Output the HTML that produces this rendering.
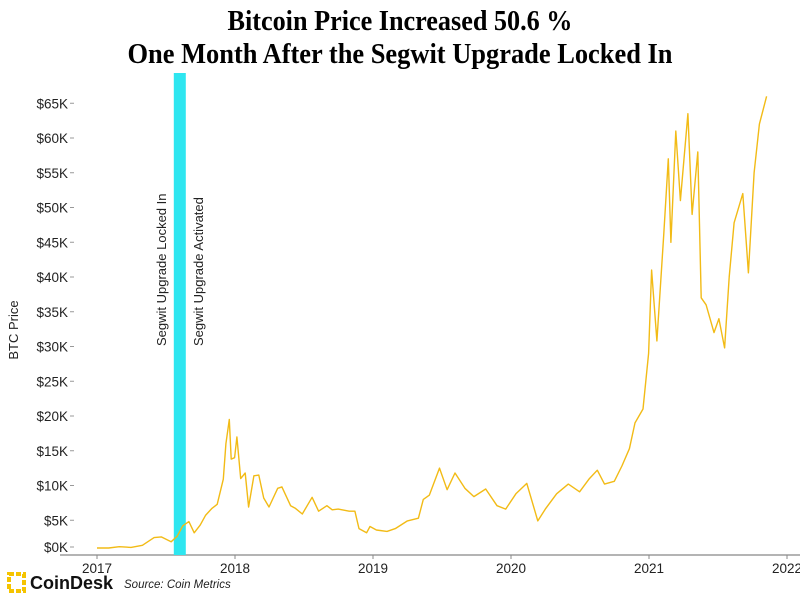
<!DOCTYPE html>
<html><head><meta charset="utf-8"><style>
html,body{margin:0;padding:0;background:#fff;}
svg{display:block;font-family:"Liberation Sans",sans-serif;}
</style></head><body>
<svg id="chart" width="800" height="600" viewBox="0 0 800 600">
<text x="400" y="30" text-anchor="middle" font-family="Liberation Serif" font-weight="bold" font-size="28" textLength="345" lengthAdjust="spacingAndGlyphs">Bitcoin Price Increased 50.6 %</text>
<text x="400" y="63" text-anchor="middle" font-family="Liberation Serif" font-weight="bold" font-size="28" textLength="545" lengthAdjust="spacingAndGlyphs">One Month After the Segwit Upgrade Locked In</text>
<text transform="translate(18,330) rotate(-90)" text-anchor="middle" font-size="13" fill="#222">BTC Price</text>
<g id="yticks"></g>
<g id="xticks"></g>
<rect id="band" y="73" height="482" fill="#2ee6f0"></rect>
<text transform="translate(166,346) rotate(-90)" font-size="13" fill="#222">Segwit Upgrade Locked In</text>
<text transform="translate(203,346) rotate(-90)" font-size="13" fill="#222">Segwit Upgrade Activated</text>
<path id="line" fill="none" stroke="#f2bb16" stroke-width="1.4" stroke-linejoin="round"></path>
<g>
<rect x="9" y="574" width="15" height="17" fill="none" stroke="#f5c400" stroke-width="4" stroke-dasharray="5 2"></rect>
<text x="30" y="589" font-size="18" font-weight="bold" fill="#111">CoinDesk</text>
</g>
<text x="124" y="588" font-size="11.5" font-style="italic" fill="#222">Source: Coin Metrics</text>
</svg>
<script>
const dates = ["2017-01-01","2017-02-01","2017-03-01","2017-04-01","2017-05-01","2017-06-01","2017-06-20","2017-07-16","2017-08-01","2017-08-16","2017-09-01","2017-09-15","2017-10-01","2017-10-15","2017-11-01","2017-11-15","2017-12-01","2017-12-08","2017-12-17","2017-12-22","2017-12-31",
"2018-01-06","2018-01-16","2018-01-28","2018-02-06","2018-02-20","2018-03-05","2018-03-18","2018-04-01","2018-04-24","2018-05-05","2018-05-28","2018-06-10","2018-06-28","2018-07-24","2018-08-10","2018-09-01","2018-09-15","2018-10-01","2018-10-30","2018-11-14","2018-11-25","2018-12-15","2018-12-24",
"2019-01-10","2019-02-07","2019-03-01","2019-04-02","2019-05-01","2019-05-14","2019-05-30","2019-06-26","2019-07-16","2019-08-06","2019-09-01","2019-09-25","2019-10-26","2019-11-25","2019-12-18",
"2020-01-14","2020-02-12","2020-03-12","2020-04-01","2020-05-01","2020-06-01","2020-07-01","2020-07-27","2020-08-17","2020-09-05","2020-10-01","2020-10-21","2020-11-10","2020-11-25","2020-12-16","2020-12-31",
"2021-01-08","2021-01-22","2021-02-09","2021-02-21","2021-02-28","2021-03-13","2021-03-25","2021-04-14","2021-04-25","2021-05-10","2021-05-19","2021-06-01","2021-06-22","2021-07-05","2021-07-20","2021-08-01","2021-08-14","2021-09-06","2021-09-21","2021-10-06","2021-10-20","2021-11-08"];
const prices = [1.0,1.0,1.2,1.1,1.4,2.5,2.6,1.9,2.7,4.2,4.8,3.2,4.3,5.7,6.7,7.3,10.9,16,19.5,13.8,14,
17,11,11.8,6.9,11.4,11.5,8.2,6.9,9.6,9.8,7.1,6.7,5.9,8.3,6.3,7.1,6.5,6.6,6.3,6.3,3.8,3.2,4.1,
3.6,3.4,3.8,4.9,5.3,8.0,8.6,12.5,9.4,11.8,9.6,8.4,9.5,7.1,6.6,
8.8,10.3,4.9,6.6,8.8,10.2,9.1,11,12.2,10.2,10.6,12.8,15.3,19,21,29,
41,30.8,46,57,45,61,51,63.5,49,58,37,36,32,34,29.8,40,47.8,52,40.6,55,62,66];
const yTickValues = [0,5,10,15,20,25,30,35,40,45,50,55,60,65];
const xTickYears = [2017,2018,2019,2020,2021,2022];
const lockedIn = "2017-08-08";

const NS="http://www.w3.org/2000/svg";
function yr(d){const t=new Date(d+"T00:00:00Z");const y=t.getUTCFullYear();const s=Date.UTC(y,0,1),e=Date.UTC(y+1,0,1);return y+(t-s)/(e-s);}
function xs(v){return 97+138*(v-2017);}
function ys(v){return 555-6.95*v;}
const yg=document.getElementById('yticks');
yTickValues.forEach(v=>{
  const yy=v===0?ys(v)-8:ys(v);
  const t=document.createElementNS(NS,'text');
  t.setAttribute('x',68);t.setAttribute('y',yy+5);t.setAttribute('text-anchor','end');t.setAttribute('font-size','13.5');t.setAttribute('fill','#222');
  t.textContent='$'+v+'K';
  
  
  yg.appendChild(t);
  const l=document.createElementNS(NS,'line');
  l.setAttribute('x1',70);l.setAttribute('x2',74);l.setAttribute('y1',yy);l.setAttribute('y2',yy);l.setAttribute('stroke','#999');
  
  
  yg.appendChild(l);
});
const xg=document.getElementById('xticks');
const ax=document.createElementNS(NS,'line');
ax.setAttribute('x1',60);ax.setAttribute('x2',800);ax.setAttribute('y1',555);ax.setAttribute('y2',555);ax.setAttribute('stroke','#888');ax.setAttribute('stroke-width','1.2');


xg.appendChild(ax);
xTickYears.forEach(y=>{
  const t=document.createElementNS(NS,'text');
  t.setAttribute('x',xs(y));t.setAttribute('y',573);t.setAttribute('text-anchor','middle');t.setAttribute('font-size','13.5');t.setAttribute('fill','#222');
  t.textContent=y;
  
  
  xg.appendChild(t);
  const l=document.createElementNS(NS,'line');
  l.setAttribute('x1',xs(y));l.setAttribute('x2',xs(y));l.setAttribute('y1',555);l.setAttribute('y2',559);l.setAttribute('stroke','#888');
  
  
  xg.appendChild(l);
});
const band=document.getElementById('band');
band.setAttribute('x',xs(yr(lockedIn))-6);band.setAttribute('width',12);
document.getElementById('line').setAttribute('d',dates.map((d,i)=>(i?'L':'M')+xs(yr(d)).toFixed(1)+','+ys(prices[i]).toFixed(1)).join(''));
</script>
</body></html>
